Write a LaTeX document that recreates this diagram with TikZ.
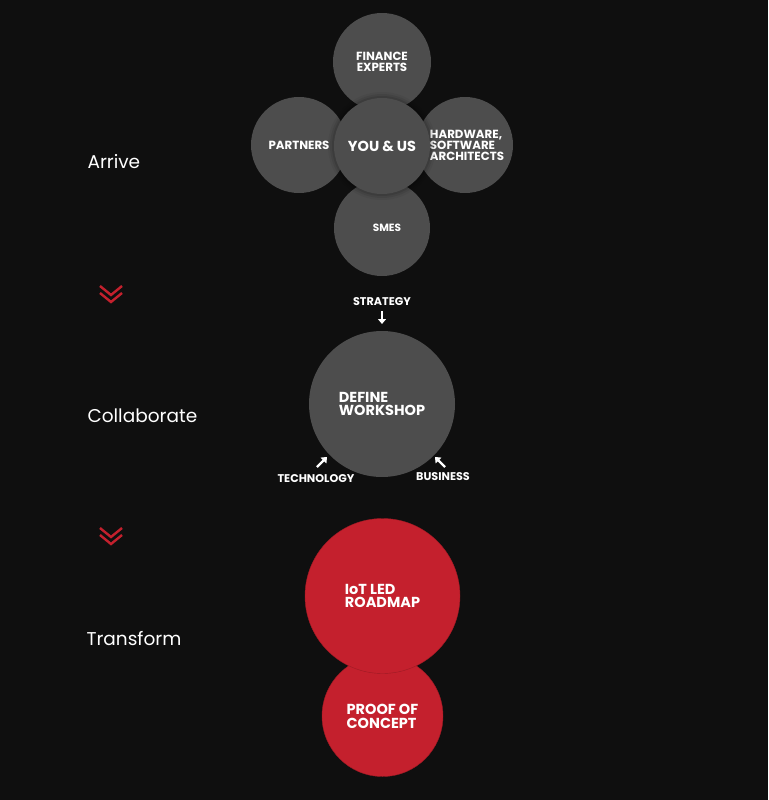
\documentclass[tikz,border=0pt]{standalone}
\usepackage{fontspec}
\setmainfont{Poppins}
\usetikzlibrary{arrows.meta}
\definecolor{bgc}{HTML}{0F0F0F}
\definecolor{discgray}{HTML}{4D4D4D}
\definecolor{brandred}{HTML}{C4202D}
\begin{document}
\begin{tikzpicture}[x=1pt,y=-1pt,
  disc/.style={circle, fill=discgray, inner sep=0pt, text=white},
  reddisc/.style={circle, fill=brandred, draw=brandred!80!black, line width=0.4pt, inner sep=0pt, text=white},
  small/.style={font=\bfseries\fontsize{11.8}{10.5}\selectfont},
  big/.style={font=\bfseries\fontsize{14.5}{13}\selectfont},
  stage/.style={text=white, font=\fontsize{18.5}{20}\selectfont, anchor=west},
  tag/.style={text=white, font=\bfseries\fontsize{11.2}{12}\selectfont},
  chev/.style={draw=brandred, line width=2.4pt},
  pointer/.style={draw=white, line width=2.2pt, -{Triangle[width=8pt,length=5pt]}}
]
\fill[bgc] (0,0) rectangle (768,800);
\useasboundingbox (0,0) rectangle (768,800);

% Arrive cluster
\node[disc, minimum size=98pt, align=center, small] (fin) at (382,62) {FINANCE\\EXPERTS};
\node[disc, minimum size=96pt, align=center, small] (par) at (299,145) {PARTNERS};
\node[disc, minimum size=96pt, align=left, font=\bfseries\fontsize{11.8}{11}\selectfont] (hw) at (465,145) {\hspace*{4pt}HARDWARE,\\\hspace*{4pt}SOFTWARE\\\hspace*{4pt}ARCHITECTS};
\node[disc, minimum size=96pt, align=center, font=\bfseries\fontsize{10.5}{10}\selectfont] (sme) at (382,228) {\hspace*{10pt}SMES};
\foreach \k/\o in {6/0.05,4/0.07,2/0.1}
  \fill[black, opacity=\o] (382,146) circle (48+\k);
\node[disc, minimum size=96pt, big] (you) at (382,146) {YOU \& US};

% stage labels
\node[stage] (arrive) at (84,162) {Arrive};
\node[stage] (collab) at (84,416) {Collaborate};
\node[stage] (transf) at (83,639) {Transform};

% chevrons
\draw[chev] (100,286) -- (111,295) -- (122,286);
\draw[chev] (100,293) -- (111,302) -- (122,293);
\draw[chev] (100,528) -- (111,537) -- (122,528);
\draw[chev] (100,535) -- (111,544) -- (122,535);

% Collaborate
\node[disc, minimum size=146pt, align=left, big] (ws) at (382,404) {DEFINE\\WORKSHOP};
\node[tag] (strat) at (382,302) {STRATEGY};
\node[tag] (tech) at (316,479) {TECHNOLOGY};
\node[tag] (bus) at (443,477) {BUSINESS};
\coordinate (sa) at (382,311);
\coordinate (sb) at (382,324);
\coordinate (ta) at (317,467);
\coordinate (tb) at (327,457);
\coordinate (ba) at (445,467);
\coordinate (bb) at (435,457);
\draw[pointer] (sa) -- (sb);
\draw[pointer] (ta) -- (tb);
\draw[pointer] (ba) -- (bb);

% Transform
\node[reddisc, minimum size=121pt, align=left, font=\bfseries\fontsize{14.5}{14}\selectfont] (poc) at (382.5,716) {PROOF OF\\CONCEPT};
\node[reddisc, minimum size=155pt, align=left, big] (iot) at (382.5,596) {IoT LED\\ROADMAP};
\end{tikzpicture}
\end{document}
